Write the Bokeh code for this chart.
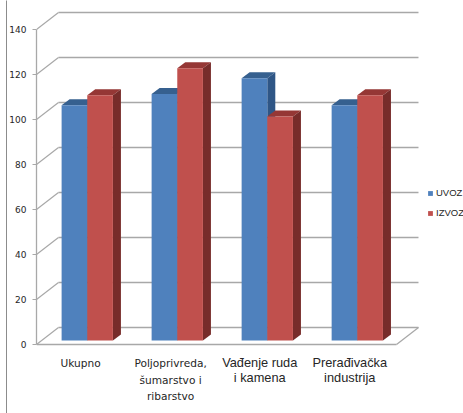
from bokeh.core.properties import value
from bokeh.embed import file_html
from bokeh.models import FixedTicker, Legend, LegendItem, LinearAxis, Range1d
from bokeh.plotting import figure
from bokeh.resources import INLINE

labels_a = ["Ukupno", "Poljoprivreda,\nšumarstvo i\nribarstvo"]
labels_b = ["Vađenje ruda\ni kamena", "Prerađivačka\nindustrija"]
uvoz = [104.5, 109.5, 116.5, 104.5]
izvoz = [109, 121, 99.5, 109]
y_ticks = [0, 20, 40, 60, 80, 100, 120, 140]

WALL_DX, WALL_DY = 0.244, 7.56      # depth of the chart box
BAR_DX, BAR_DY = 0.089, 2.67        # depth of one bar
BAR_W, BAR_START, BAR_BASE = 0.285, 0.279, 1.78
N = len(uvoz)
GRID = "#a8a8a8"

p = figure(width=463, height=413, output_backend="svg", toolbar_location=None,
           x_range=Range1d(0, 4.744), y_range=Range1d(-30.67, 152.89),
           min_border_left=36, min_border_right=0, min_border_top=0, min_border_bottom=0,
           x_axis_location=None, y_axis_location=None, outline_line_color=None,
           background_fill_color="white", border_fill_color="white")
p.grid.visible = False

p.segment(x0=[WALL_DX] * len(y_ticks), x1=[N + WALL_DX] * len(y_ticks),
          y0=[t + WALL_DY for t in y_ticks], y1=[t + WALL_DY for t in y_ticks],
          line_color=GRID, line_width=1.3)
p.segment(x0=[0] * len(y_ticks), x1=[WALL_DX] * len(y_ticks),
          y0=y_ticks, y1=[t + WALL_DY for t in y_ticks],
          line_color=GRID, line_width=1.2)
p.segment(x0=[0, N], x1=[N, N + WALL_DX], y0=[0, 0], y1=[0, WALL_DY],
          line_color=GRID, line_width=1.3)


def bars(vals, slot, front, top, side):
    lefts = [i + BAR_START + slot * BAR_W for i in range(N)]
    rights = [x + BAR_W for x in lefts]
    tops = [v + BAR_BASE for v in vals]
    p.patches(xs=[[l, r, r + BAR_DX, l + BAR_DX] for l, r in zip(lefts, rights)],
              ys=[[t, t, t + BAR_DY, t + BAR_DY] for t in tops],
              fill_color=top, line_color=None)
    p.patches(xs=[[r, r + BAR_DX, r + BAR_DX, r] for r in rights],
              ys=[[BAR_BASE, BAR_BASE + BAR_DY, t + BAR_DY, t] for t in tops],
              fill_color=side, line_color=None)
    return p.quad(left=lefts, right=rights, bottom=BAR_BASE, top=tops,
                  fill_color=front, line_color=None)


r_uvoz = bars(uvoz, 0, "#4f81bd", "#36608f", "#2f5686")
r_izvoz = bars(izvoz, 1, "#c0504d", "#953735", "#772c2a")

p.text(x=[i + 0.49 for i in range(2)], y=[-5.7] * 2, text=labels_a,
       text_font=value("DejaVu Sans"), text_font_size="10.6px", text_color="#262626",
       text_align="center", text_baseline="top", text_line_height=1.38)
p.text(x=[i + 2.48 for i in range(2)], y=[-4.7] * 2, text=labels_b,
       text_font=value("Liberation Sans"), text_font_size="12.8px", text_color="#262626",
       text_align="center", text_baseline="top", text_line_height=0.98)

y_axis = LinearAxis(ticker=FixedTicker(ticks=y_ticks), bounds=(0, 140))
y_axis.axis_line_color = GRID
y_axis.axis_line_width = 1.3
y_axis.major_tick_line_color = GRID
y_axis.major_tick_in = 0
y_axis.major_tick_out = 4
y_axis.minor_tick_line_color = None
y_axis.major_label_text_font = "DejaVu Sans"
y_axis.major_label_text_font_size = "9px"
y_axis.major_label_text_color = "#262626"
y_axis.major_label_standoff = 6
p.add_layout(y_axis, "left")

rule = LinearAxis(ticker=FixedTicker(ticks=[]), major_label_text_font_size="0px")
rule.axis_line_color = "#8c8c8c"
rule.axis_line_width = 1
rule.major_tick_line_color = None
rule.minor_tick_line_color = None
p.add_layout(rule, "left")

legend = Legend(items=[LegendItem(label="UVOZ", renderers=[r_uvoz]),
                       LegendItem(label="IZVOZ", renderers=[r_izvoz])],
                location=(391, 195), orientation="vertical",
                glyph_width=6, glyph_height=6, label_standoff=3, spacing=9,
                padding=0, margin=0, border_line_color=None, background_fill_alpha=0,
                label_text_font="Liberation Sans", label_text_font_size="9.5px",
                label_text_color="#262626", label_height=11)
p.add_layout(legend, "center")

open("out.html", "w").write(file_html(p, INLINE))
